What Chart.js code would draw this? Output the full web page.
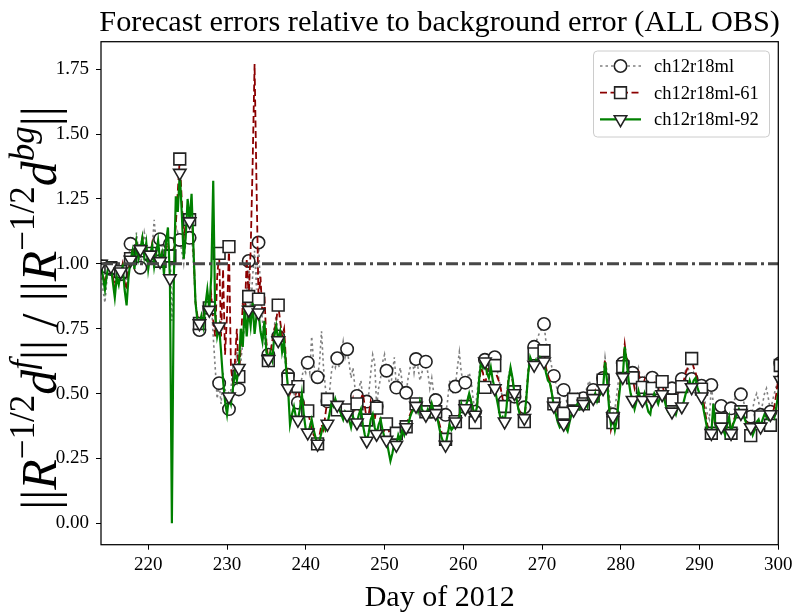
<!DOCTYPE html>
<html>
<head>
<meta charset="utf-8">
<title>Forecast errors relative to background error</title>
<script src="https://cdn.jsdelivr.net/npm/chart.js@4.4.1/dist/chart.umd.min.js"></script>
<style>
  html, body { margin: 0; padding: 0; background: #fff; }
  canvas { display: block; }
</style>
</head>
<body>
<canvas id="chart" width="799" height="613"></canvas>
<script>
// Six-hourly samples starting on day 214; a marker every 5th sample.
const startDay = 214;
const stepDays = 0.25;
const markEvery = 5;

const xMin = 214, xMax = 300;
const yMin = -0.0825, yMax = 1.856;
const xTicks = [220, 230, 240, 250, 260, 270, 280, 290, 300];
const yTicks = [0, 0.25, 0.5, 0.75, 1.0, 1.25, 1.5, 1.75];
const refLevel = 1.0;

const seriesNames = ['ch12r18ml', 'ch12r18ml-61', 'ch12r18ml-92'];

const ch12r18ml = [
  0.99,0.90,0.85,0.94,1.00, 0.98,0.95,0.90,0.97,0.94, 0.96,1.00,0.94,0.92,1.02, 1.077,1.10,1.03,1.12,1.05,
  0.985,1.05,1.12,1.08,1.02, 1.03,1.06,1.17,1.08,1.05, 1.095,1.05,1.10,1.06,1.04, 1.077,0.78,0.95,1.08,1.12,
  1.092,1.05,1.00,1.08,1.12, 1.10,1.12,1.00,0.85,0.78, 0.745,0.76,0.79,0.81,0.83, 0.83,0.86,0.72,0.60,0.48,
  0.54,0.46,0.58,0.52,0.47, 0.44,0.52,0.60,0.56,0.66, 0.516,0.62,0.70,0.76,0.88, 1.011,0.82,0.95,1.05,0.90,
  1.082,0.90,0.78,0.70,0.66, 0.65,0.66,0.70,0.76,0.80, 0.72,0.74,0.68,0.65,0.60, 0.572,0.55,0.52,0.50,0.48,
  0.465,0.52,0.56,0.60,0.58, 0.619,0.58,0.72,0.62,0.56, 0.563,0.62,0.74,0.60,0.52, 0.47,0.50,0.58,0.62,0.60,
  0.636,0.60,0.65,0.70,0.64, 0.671,0.62,0.56,0.60,0.52, 0.491,0.52,0.55,0.48,0.45, 0.469,0.50,0.58,0.65,0.62,
  0.45,0.52,0.56,0.62,0.65, 0.588,0.56,0.52,0.58,0.64, 0.523,0.56,0.60,0.54,0.50, 0.503,0.56,0.60,0.64,0.58,
  0.633,0.60,0.55,0.58,0.62, 0.623,0.58,0.52,0.56,0.50, 0.475,0.50,0.46,0.44,0.43, 0.418,0.47,0.55,0.52,0.50,
  0.527,0.60,0.66,0.58,0.55, 0.542,0.56,0.58,0.55,0.48, 0.43,0.50,0.58,0.63,0.62, 0.63,0.62,0.64,0.63,0.62,
  0.64,0.60,0.56,0.52,0.48, 0.47,0.50,0.57,0.60,0.56, 0.488,0.48,0.45,0.43,0.44, 0.447,0.50,0.60,0.66,0.68,
  0.68,0.70,0.72,0.74,0.75, 0.768,0.70,0.66,0.64,0.60, 0.568,0.54,0.50,0.48,0.50, 0.514,0.48,0.46,0.48,0.47,
  0.47,0.49,0.50,0.48,0.49, 0.482,0.50,0.53,0.55,0.52, 0.514,0.52,0.50,0.53,0.55, 0.56,0.64,0.58,0.50,0.44,
  0.42,0.44,0.50,0.56,0.60, 0.617,0.66,0.63,0.60,0.58, 0.58,0.55,0.57,0.60,0.56, 0.54,0.56,0.52,0.50,0.52,
  0.561,0.57,0.54,0.52,0.55, 0.53,0.52,0.50,0.49,0.50, 0.52,0.53,0.51,0.54,0.55, 0.556,0.57,0.59,0.60,0.58,
  0.556,0.58,0.56,0.55,0.54, 0.53,0.50,0.46,0.42,0.40, 0.533,0.46,0.42,0.41,0.43, 0.452,0.44,0.42,0.45,0.46,
  0.443,0.46,0.48,0.50,0.51, 0.497,0.48,0.45,0.43,0.42, 0.411,0.44,0.48,0.50,0.47, 0.418,0.46,0.50,0.52,0.48,
  0.43,0.47,0.50,0.53,0.58, 0.617
];

const ch12r18ml61 = [
  0.99,0.96,0.92,0.97,1.00, 0.985,0.95,0.91,0.96,0.94, 0.97,1.00,0.93,0.90,0.98, 1.02,1.06,1.00,1.08,1.03,
  1.05,1.10,1.04,1.07,1.00, 1.04,1.08,1.02,1.05,1.07, 1.01,1.05,1.00,1.06,1.08, 1.03,1.00,1.05,1.15,1.28,
  1.404,1.25,1.10,1.15,1.22, 1.17,1.22,1.05,0.85,0.80, 0.77,0.78,0.80,0.82,0.84, 0.83,0.88,0.78,0.72,0.95,
  1.04,0.72,0.98,0.65,0.80, 1.066,0.60,0.54,0.62,0.75, 0.565,0.68,0.85,0.80,1.02, 0.874,1.05,1.38,1.77,1.30,
  0.864,0.95,0.80,0.88,0.70, 0.627,0.66,0.70,0.74,0.78, 0.841,0.78,0.72,0.75,0.62, 0.556,0.50,0.52,0.55,0.50,
  0.527,0.48,0.44,0.46,0.42, 0.433,0.40,0.36,0.34,0.33, 0.306,0.34,0.38,0.36,0.42, 0.478,0.46,0.47,0.44,0.46,
  0.437,0.45,0.42,0.44,0.41, 0.437,0.40,0.45,0.48,0.44, 0.46,0.44,0.48,0.50,0.45, 0.398,0.42,0.47,0.44,0.40,
  0.444,0.42,0.40,0.38,0.36, 0.383,0.36,0.34,0.36,0.35, 0.347,0.36,0.38,0.36,0.37, 0.372,0.40,0.42,0.44,0.45,
  0.46,0.44,0.46,0.45,0.43, 0.43,0.45,0.43,0.46,0.44, 0.43,0.41,0.38,0.35,0.33, 0.324,0.35,0.38,0.37,0.38,
  0.392,0.41,0.42,0.44,0.43, 0.45,0.46,0.50,0.47,0.44, 0.388,0.45,0.54,0.60,0.58, 0.524,0.58,0.61,0.62,0.60,
  0.608,0.57,0.55,0.52,0.48, 0.45,0.48,0.56,0.58,0.55, 0.507,0.48,0.45,0.42,0.40, 0.392,0.48,0.58,0.64,0.65,
  0.653,0.64,0.66,0.65,0.66, 0.665,0.60,0.57,0.55,0.50, 0.46,0.43,0.40,0.38,0.39, 0.424,0.39,0.37,0.40,0.44,
  0.478,0.46,0.47,0.45,0.46, 0.46,0.47,0.46,0.48,0.48, 0.49,0.51,0.48,0.50,0.52, 0.552,0.63,0.56,0.46,0.36,
  0.388,0.36,0.42,0.50,0.56, 0.604,0.69,0.63,0.58,0.56, 0.561,0.52,0.55,0.58,0.54, 0.524,0.55,0.50,0.47,0.48,
  0.52,0.54,0.52,0.50,0.57, 0.546,0.50,0.48,0.46,0.47, 0.475,0.48,0.46,0.50,0.51, 0.527,0.55,0.58,0.60,0.62,
  0.635,0.60,0.58,0.55,0.52, 0.517,0.47,0.42,0.38,0.35, 0.347,0.43,0.40,0.38,0.39, 0.402,0.38,0.36,0.39,0.40,
  0.347,0.39,0.41,0.43,0.44, 0.43,0.44,0.41,0.39,0.37, 0.338,0.36,0.38,0.40,0.41, 0.41,0.40,0.42,0.41,0.39,
  0.378,0.42,0.45,0.50,0.56, 0.608
];

const ch12r18ml92 = [
  1.00,0.95,0.90,0.96,1.00, 0.99,0.93,0.87,0.95,0.92, 0.97,0.99,0.90,0.84,0.95, 1.015,1.05,0.98,1.08,1.02,
  1.056,1.10,1.03,1.08,0.98, 1.035,1.07,0.99,1.04,1.09, 1.01,1.04,0.96,1.08,1.14, 0.944,0.00,0.95,1.26,1.20,
  1.35,1.20,1.02,1.10,1.25, 1.163,1.27,1.05,0.85,0.78, 0.77,0.80,0.76,0.84,0.90, 0.822,0.95,1.32,0.80,0.72,
  0.758,0.66,0.55,0.47,0.42, 0.488,0.46,0.52,0.58,0.55, 0.598,0.75,0.68,0.84,0.72, 0.822,0.76,0.85,0.73,0.80,
  0.812,0.74,0.70,0.78,0.66, 0.632,0.66,0.63,0.72,0.76, 0.705,0.74,0.66,0.70,0.60, 0.52,0.38,0.42,0.45,0.41,
  0.398,0.44,0.50,0.42,0.36, 0.349,0.37,0.40,0.36,0.33, 0.306,0.32,0.35,0.38,0.36, 0.383,0.42,0.46,0.45,0.48,
  0.456,0.44,0.42,0.40,0.43, 0.418,0.40,0.37,0.41,0.39, 0.388,0.42,0.44,0.38,0.34, 0.318,0.35,0.40,0.42,0.37,
  0.344,0.38,0.40,0.36,0.33, 0.321,0.28,0.24,0.27,0.31, 0.302,0.34,0.32,0.36,0.34, 0.37,0.38,0.41,0.43,0.44,
  0.452,0.43,0.47,0.44,0.42, 0.418,0.44,0.42,0.46,0.43, 0.424,0.40,0.36,0.33,0.31, 0.302,0.34,0.38,0.36,0.37,
  0.392,0.40,0.41,0.46,0.43, 0.443,0.47,0.50,0.47,0.44, 0.418,0.45,0.55,0.62,0.60, 0.623,0.58,0.56,0.60,0.55,
  0.52,0.48,0.44,0.40,0.41, 0.392,0.45,0.55,0.60,0.56, 0.501,0.48,0.44,0.41,0.40, 0.405,0.48,0.58,0.64,0.62,
  0.61,0.63,0.62,0.64,0.63, 0.623,0.58,0.55,0.54,0.50, 0.452,0.42,0.39,0.37,0.38, 0.383,0.37,0.355,0.39,0.42,
  0.437,0.45,0.46,0.44,0.45, 0.46,0.47,0.45,0.48,0.47, 0.482,0.50,0.47,0.49,0.50, 0.52,0.62,0.55,0.45,0.38,
  0.411,0.36,0.40,0.48,0.55, 0.563,0.68,0.62,0.55,0.50, 0.475,0.44,0.47,0.51,0.48, 0.475,0.50,0.46,0.43,0.42,
  0.475,0.50,0.48,0.46,0.49, 0.497,0.48,0.45,0.43,0.42, 0.43,0.44,0.42,0.45,0.44, 0.45,0.47,0.50,0.52,0.55,
  0.524,0.55,0.56,0.52,0.50, 0.488,0.44,0.40,0.36,0.34, 0.347,0.46,0.38,0.36,0.37, 0.372,0.36,0.34,0.38,0.41,
  0.347,0.38,0.40,0.42,0.44, 0.424,0.43,0.40,0.38,0.36, 0.37,0.34,0.36,0.39,0.40, 0.372,0.40,0.42,0.41,0.40,
  0.42,0.43,0.41,0.45,0.50, 0.552
];

const SERIF = '"Liberation Serif", "Times New Roman", serif';

const toPoints = vals => vals.map((v, i) => ({ x: startDay + i * stepDays, y: v }));
const markerSize = r => ctx => (ctx.dataIndex % markEvery === 0 ? r : 0);

const markerStyle = {
  pointBackgroundColor: '#ffffff',
  pointBorderColor: '#222222',
  pointBorderWidth: 1.6,
  pointHoverRadius: 0,
  clip: 0
};

const datasets = [
  {
    label: 'reference',
    data: [{ x: xMin, y: refLevel }, { x: xMax, y: refLevel }],
    borderColor: '#474747',
    borderWidth: 3,
    borderDash: [12, 4, 3, 4],
    pointRadius: 0,
    order: 0
  },
  {
    label: seriesNames[2],
    data: toPoints(ch12r18ml92),
    borderColor: '#008000',
    borderWidth: 2.2,
    pointStyle: 'triangle',
    pointRotation: 180,
    pointRadius: markerSize(7.2),
    ...markerStyle,
    order: 1
  },
  {
    label: seriesNames[1],
    data: toPoints(ch12r18ml61),
    borderColor: '#8b0000',
    borderWidth: 1.8,
    borderDash: [7, 3.5],
    pointStyle: 'rect',
    pointRadius: markerSize(8.3),
    ...markerStyle,
    order: 2
  },
  {
    label: seriesNames[0],
    data: toPoints(ch12r18ml),
    borderColor: '#808080',
    borderWidth: 1.6,
    borderDash: [2.5, 3],
    pointStyle: 'circle',
    pointRadius: markerSize(6.2),
    ...markerStyle,
    order: 3
  }
];

// Title, axis titles, frame and legend box drawn on top of the plot.
const decorations = {
  id: 'decorations',
  afterDraw(chart) {
    const { ctx, chartArea: a } = chart;
    ctx.save();

    // frame
    ctx.strokeStyle = '#000';
    ctx.lineWidth = 1.25;
    ctx.setLineDash([]);
    ctx.strokeRect(a.left, a.top, a.right - a.left, a.bottom - a.top);

    // title
    ctx.fillStyle = '#000';
    ctx.textAlign = 'center';
    ctx.textBaseline = 'alphabetic';
    ctx.font = '30.3px ' + SERIF;
    ctx.fillText('Forecast errors relative to background error (ALL OBS)', (a.left + a.right) / 2, 31);

    // x axis title
    ctx.font = '30px ' + SERIF;
    ctx.fillText('Day of 2012', (a.left + a.right) / 2, 606);

    // y axis title (math style, rotated)
    drawMathLabel(ctx, 56, 308, 50);

    // legend
    drawLegend(ctx, chart);
    ctx.restore();
  }
};

function drawMathLabel(ctx, baseX, centerY, size) {
  const sup = size * 0.7, rise = size * 0.45;
  const up = `${size}px ${SERIF}`;
  const it = `italic ${size}px ${SERIF}`;
  const supUp = `${sup}px ${SERIF}`;
  const supIt = `italic ${sup}px ${SERIF}`;
  const parts = [
    ['||', up, 0], ['R', it, 0], ['\u22121/2', supUp, rise], ['d', it, 0], ['f', supIt, rise],
    ['||', up, 0], [' / ', up, 0], ['||', up, 0], ['R', it, 0], ['\u22121/2', supUp, rise],
    ['d', it, 0], ['bg', supIt, rise], ['||', up, 0]
  ];
  ctx.save();
  ctx.translate(baseX, centerY);
  ctx.rotate(-Math.PI / 2);
  ctx.textAlign = 'left';
  ctx.textBaseline = 'alphabetic';
  let total = 0;
  const widths = parts.map(([t, f]) => { ctx.font = f; const w = ctx.measureText(t).width; total += w; return w; });
  let x = -total / 2;
  parts.forEach(([t, f, dy], i) => {
    ctx.font = f;
    ctx.fillText(t, x, -dy);
    x += widths[i];
  });
  ctx.restore();
}

function roundRect(ctx, x, y, w, h, r) {
  ctx.beginPath();
  ctx.moveTo(x + r, y);
  ctx.lineTo(x + w - r, y);
  ctx.arcTo(x + w, y, x + w, y + r, r);
  ctx.lineTo(x + w, y + h - r);
  ctx.arcTo(x + w, y + h, x + w - r, y + h, r);
  ctx.lineTo(x + r, y + h);
  ctx.arcTo(x, y + h, x, y + h - r, r);
  ctx.lineTo(x, y + r);
  ctx.arcTo(x, y, x + r, y, r);
  ctx.closePath();
}

function drawLegend(ctx, chart) {
  const box = { x: 593.5, y: 51, w: 176, h: 86 };
  ctx.save();
  roundRect(ctx, box.x, box.y, box.w, box.h, 4);
  ctx.fillStyle = 'rgba(255,255,255,0.85)';
  ctx.fill();
  ctx.strokeStyle = '#cccccc';
  ctx.lineWidth = 1;
  ctx.stroke();

  const order = [3, 2, 1]; // dataset indices in legend order
  order.forEach((di, row) => {
    const ds = chart.data.datasets[di];
    const y = 66 + row * 26.7;
    ctx.strokeStyle = ds.borderColor;
    ctx.lineWidth = ds.borderWidth;
    ctx.setLineDash(ds.borderDash || []);
    ctx.beginPath();
    ctx.moveTo(600, y);
    ctx.lineTo(641, y);
    ctx.stroke();
    ctx.setLineDash([]);
    ctx.fillStyle = ds.pointBackgroundColor;
    ctx.strokeStyle = ds.pointBorderColor;
    ctx.lineWidth = ds.pointBorderWidth;
    const r = ds.pointRadius({ dataIndex: 0 });
    Chart.helpers.drawPoint(ctx, { pointStyle: ds.pointStyle, rotation: ds.pointRotation || 0, radius: r, borderWidth: ds.pointBorderWidth }, 620.5, y);
    ctx.fillStyle = '#000';
    ctx.font = '18.5px ' + SERIF;
    ctx.textAlign = 'left';
    ctx.textBaseline = 'middle';
    ctx.fillText(ds.label, 654, y + 1);
  });
  ctx.restore();
}

const tickFont = { family: SERIF, size: 19 };

new Chart(document.getElementById('chart'), {
  type: 'line',
  data: { datasets },
  options: {
    responsive: false,
    animation: false,
    devicePixelRatio: 1,
    events: [],
    layout: { padding: { top: 41.7, right: 20.7, left: 0, bottom: 0 } },
    plugins: {
      legend: { display: false },
      title: { display: false },
      tooltip: { enabled: false }
    },
    scales: {
      x: {
        type: 'linear',
        bounds: 'data',
        // limits applied after the data range so every sample stays drawable (clipped at the frame)
        afterDataLimits: s => { s.min = xMin; s.max = xMax; },
        afterFit: s => { s.height = 68.3; },
        afterBuildTicks: s => { s.ticks = xTicks.map(v => ({ value: v })); },
        border: { display: false },
        grid: { display: true, drawOnChartArea: false, drawTicks: true, tickLength: 5, color: '#000', lineWidth: 1 },
        ticks: { font: tickFont, color: '#000', padding: 4, autoSkip: false, maxRotation: 0, callback: v => String(v) }
      },
      y: {
        type: 'linear',
        min: yMin,
        max: yMax,
        afterFit: s => { s.width = 101; },
        afterBuildTicks: s => { s.ticks = yTicks.map(v => ({ value: v })); },
        border: { display: false },
        grid: { display: true, drawOnChartArea: false, drawTicks: true, tickLength: 5, color: '#000', lineWidth: 1 },
        ticks: { font: tickFont, color: '#000', padding: 7, autoSkip: false, callback: v => Number(v).toFixed(2) }
      }
    }
  },
  plugins: [decorations]
});
</script>
</body>
</html>
